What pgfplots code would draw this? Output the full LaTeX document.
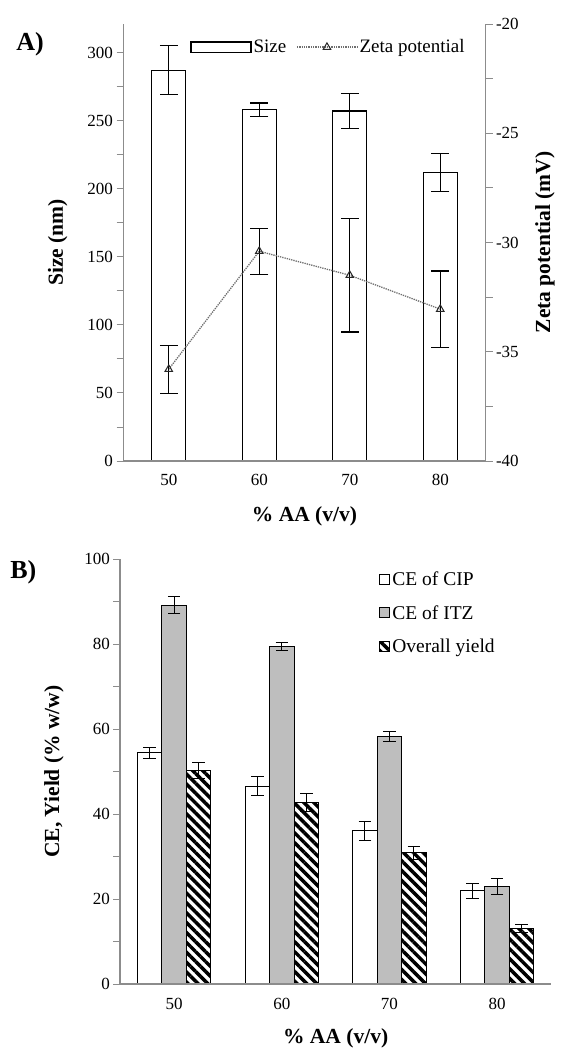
\documentclass[border=0pt]{standalone}
\usepackage{fontspec}
\setmainfont{Liberation Serif}
\usepackage{pgfplots}
\pgfplotsset{compat=1.18}
\usetikzlibrary{patterns.meta}
\definecolor{axgray}{RGB}{140,140,140}
\definecolor{itz}{RGB}{190,190,190}
\definecolor{zetaline}{RGB}{110,110,110}

\pgfplotsset{
  common/.style={
    scale only axis,
    xmin=-0.5, xmax=3.5,
    axis line style={draw=axgray, line width=1.6pt, -},
    tick align=outside,
    major tick length=7pt, minor tick length=7pt,
    ytick style={draw=axgray, line width=0.9pt},
    /pgf/number format/assume math mode=true,
    clip=false,
  },
  zetalegend/.style={legend image code/.code={\draw[##1, mark repeat=2, mark phase=2] plot coordinates {(0pt,0pt) (30pt,0pt) (60pt,0pt)};}},
  sqlegend/.style={legend image code/.code={\draw[##1, line width=1pt] (0pt,-5pt) rectangle (10pt,5pt);}},
}

\begin{document}
\begin{tikzpicture}
\path[use as bounding box] (0,0) rectangle (563pt,1053pt);

% ---------- Panel A, left axis (Size)
\begin{axis}[common,
  at={(123.5pt,592pt)}, anchor=south west,
  width=362pt, height=437pt,
  ymin=0, ymax=321,
  ybar, bar width=34pt,
  axis on top,
  axis x line*=bottom, axis y line*=left,
  xtick={0,1,2,3}, xticklabels={50,60,70,80},
  x tick style={draw=none},
  xticklabel style={yshift=-3pt},
  ytick={0,50,...,300}, minor ytick={25,75,...,275},
  tick label style={font=\fontsize{17}{17}\selectfont},
  xlabel={\% AA (v/v)}, ylabel={Size (nm)},
  label style={font=\fontsize{21.5}{21.5}\selectfont\bfseries},
  ylabel style={at={(axis description cs:-0.182,0.5)}, anchor=center},
  xlabel style={at={(axis description cs:0.5,-0.126)}, anchor=center},
]
\addplot[draw=black, line width=1.3pt, fill=white,
  error bars/.cd, y dir=both, y explicit,
  error bar style={black, line width=1.3pt},
  error mark options={black, rotate=90, mark size=9pt, line width=1.3pt}]
  coordinates {(0,287) +- (0,18) (1,258) +- (0,5) (2,257) +- (0,13) (3,212) +- (0,14)};
\end{axis}

% ---------- Panel A, right axis (Zeta potential)
\begin{axis}[common,
  at={(123.5pt,592pt)}, anchor=south west,
  width=362pt, height=437pt,
  ymin=-40, ymax=-20,
  axis x line=none, axis y line*=right,
  ytick={-40,-35,-30,-25,-20}, yticklabels={-40,-35,-30,-25,-20},
  minor ytick={-37.5,-32.5,-27.5,-22.5},
  tick label style={font=\fontsize{17}{17}\selectfont},
  ylabel={Zeta potential (mV)},
  label style={font=\fontsize{21.5}{21.5}\selectfont\bfseries},
  ylabel style={at={(axis description cs:1.164,0.5)}, anchor=center},
  legend style={at={(axis description cs:0.184,0.947)}, anchor=west,
    legend columns=2, draw=none, fill=none, inner sep=0pt,
    font=\fontsize{19}{19}\selectfont,
    /tikz/every even column/.append style={column sep=8pt}},
  legend cell align=left,
]
\addlegendimage{legend image code/.code={\draw[black, line width=1.3pt, fill=white] (0pt,-5pt) rectangle (60pt,5pt);}}
\addlegendentry{Size}
\addplot[zetaline, densely dotted, line width=1.3pt,
  mark=triangle, mark size=4.3pt, mark options={solid, draw=black!85, fill=white, line width=1pt},
  zetalegend,
  error bars/.cd, y dir=both, y explicit,
  error bar style={solid, black, line width=1.3pt},
  error mark options={solid, black, rotate=90, mark size=9pt, line width=1.3pt}]
  coordinates {(0,-35.8) +- (0,1.1) (1,-30.4) +- (0,1.05) (2,-31.5) +- (0,2.6) (3,-33.05) +- (0,1.75)};
\addlegendentry{Zeta potential}
\end{axis}

\node[font=\fontsize{26}{26}\selectfont\bfseries] at (30pt,1008.5pt) {A)};

% ---------- Panel B
\begin{axis}[common,
  at={(120.3pt,69pt)}, anchor=south west,
  width=430.7pt, height=424.7pt,
  ymin=0, ymax=100,
  ybar=0pt, bar width=24.5pt,
  axis on top,
  axis x line*=bottom, axis y line*=left,
  xtick={0,1,2,3}, xticklabels={50,60,70,80},
  x tick style={draw=none},
  xticklabel style={yshift=-4pt},
  ytick={0,20,...,100}, minor ytick={10,30,...,90},
  tick label style={font=\fontsize{17}{17}\selectfont},
  xlabel={\% AA (v/v)}, ylabel={CE, Yield (\% w/w)},
  label style={font=\fontsize{21.5}{21.5}\selectfont\bfseries},
  ylabel style={at={(axis description cs:-0.154,0.5)}, anchor=center},
  xlabel style={at={(axis description cs:0.5,-0.127)}, anchor=center},
  legend style={at={(axis description cs:0.601,0.975)}, anchor=north west,
    draw=none, fill=none, inner sep=0pt,
    font=\fontsize{19.5}{19.5}\selectfont,
    row sep=14pt},
  legend cell align=left,
]
\addplot[draw=black, line width=1pt, fill=white,
  sqlegend,
  error bars/.cd, y dir=both, y explicit,
  error bar style={black, line width=1pt},
  error mark options={black, rotate=90, mark size=6.3pt, line width=1pt}]
  coordinates {(0,54.5) +- (0,1.3) (1,46.6) +- (0,2.3) (2,36.1) +- (0,2.2) (3,21.9) +- (0,1.7)};
\addlegendentry{CE of CIP}
\addplot[draw=black, line width=1pt, fill=itz,
  sqlegend,
  error bars/.cd, y dir=both, y explicit,
  error bar style={black, line width=1pt},
  error mark options={black, rotate=90, mark size=6.3pt, line width=1pt}]
  coordinates {(0,89.2) +- (0,2) (1,79.4) +- (0,0.9) (2,58.2) +- (0,1.2) (3,22.9) +- (0,1.9)};
\addlegendentry{CE of ITZ}
\addplot[draw=black, line width=1pt,
  pattern={Lines[angle=-45, distance=7pt, line width=3.5pt]}, pattern color=black,
  sqlegend,
  error bars/.cd, y dir=both, y explicit,
  error bar style={black, line width=1pt},
  error mark options={black, rotate=90, mark size=6.3pt, line width=1pt}]
  coordinates {(0,50.2) +- (0,1.9) (1,42.7) +- (0,2.2) (2,30.9) +- (0,1.5) (3,13.1) +- (0,1)};
\addlegendentry{Overall yield}
\end{axis}

\node[font=\fontsize{26}{26}\selectfont\bfseries] at (23.4pt,480.5pt) {B)};
\end{tikzpicture}
\end{document}
